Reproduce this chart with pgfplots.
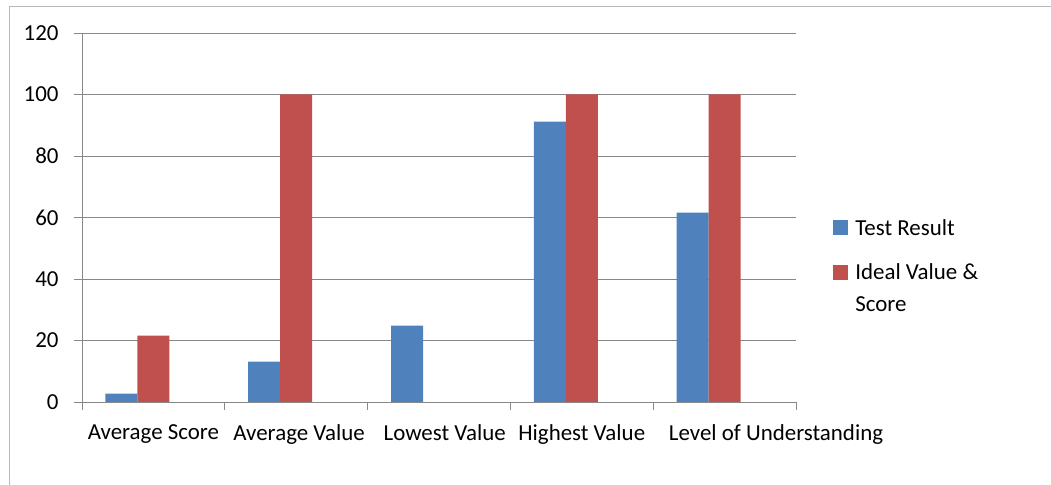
\documentclass[border=0pt]{standalone}
\usepackage{pgfplots}
\pgfplotsset{compat=1.18}
\usepackage{fontspec}
\setmainfont{Carlito}
\definecolor{sblue}{HTML}{4F81BD}
\definecolor{sred}{HTML}{C0504D}
\definecolor{gridc}{HTML}{888888}
\begin{document}
\begin{tikzpicture}[x=1bp,y=1bp]
\useasboundingbox (0,0) rectangle (1051,485);
\draw[gray!55, line width=1bp] (9,0) -- (9,478) -- (1051,478);
\begin{axis}[
  at={(82bp,83bp)}, anchor=south west,
  scale only axis, width=714bp, height=369bp,
  xmin=0, xmax=5, ymin=0, ymax=120,
  ybar, bar width=32bp,
  axis lines*=left,
  axis line style={gridc, line width=0.9bp},
  ytick={0,20,...,120},
  ymajorgrids, grid style={gridc, line width=0.9bp},
  xtick={0,1,...,5}, xticklabels={},
  extra x ticks={0.5,1.52,2.54,3.5,4.86},
  extra x tick labels={Average Score,Average Value,Lowest Value,Highest Value,\raisebox{3bp}{Level of Understanding}},
  extra x tick style={major tick length=0pt, grid=none},
  tick style={gridc, line width=0.9bp},
  tick align=outside, major tick length=8bp,
  /pgf/number format/assume math mode=true,
  tick label style={font=\fontsize{23}{25}\selectfont, text=black},
  yticklabel style={xshift=-12bp},
  xticklabel style={yshift=-19bp},
  legend style={draw=none, at={(1.052,0.50)}, anchor=north west,
    font=\fontsize{23}{32}\selectfont, row sep=23bp, column sep=5bp,
    inner sep=0pt},
  legend cell align=left,
]
\addplot[fill=sblue, draw=none, bar shift=-32bp,
  legend image code/.code={\fill[sblue] (0bp,-7bp) rectangle (15bp,8bp);}]
  coordinates {(0.5,2.7) (1.5,13.1) (2.5,24.8) (3.5,91.2) (4.5,61.6)};
\addlegendentry{Test Result}
\addplot[fill=sred, draw=none, bar shift=0bp,
  legend image code/.code={\fill[sred] (0bp,-7bp) rectangle (15bp,8bp);}]
  coordinates {(0.5,21.6) (1.5,100) (3.5,100) (4.5,100)};
\addlegendentry{\parbox[t]{150bp}{Ideal Value \&\\Score}}
\end{axis}
\end{tikzpicture}
\end{document}
